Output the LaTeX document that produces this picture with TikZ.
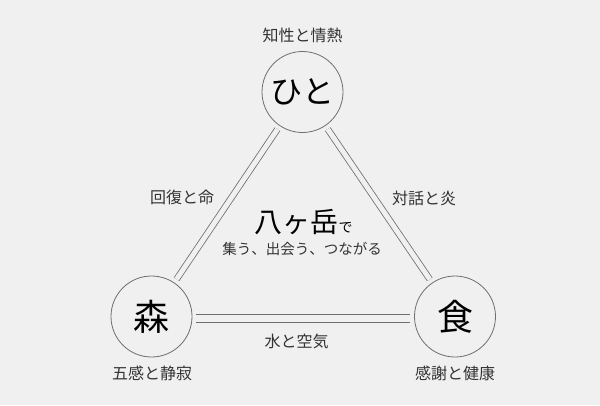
\documentclass[tikz,border=0pt]{standalone}
\usepackage{fontspec}
\setmainfont{Noto Sans CJK JP}
\definecolor{bg}{HTML}{F0F0F0}
\definecolor{ln}{HTML}{6E6E6E}
\definecolor{tx}{HTML}{333333}
\begin{document}
\begin{tikzpicture}[x=1pt,y=-1pt,
  hub/.style={circle,draw=ln,line width=0.8pt,minimum size=81pt,inner sep=0pt,text=black},
  lbl/.style={text=tx,inner sep=0pt,font=\fontsize{16}{16}\selectfont},
  dbl/.style={draw=ln,line width=0.8pt,double=bg,shorten <=4pt,shorten >=4pt},
  sgl/.style={draw=ln,line width=0.8pt}]
\fill[bg] (0,0) rectangle (600,405);
\useasboundingbox (0,0) rectangle (600,405);
\node[hub,font=\fontsize{32}{32}\selectfont] (h) at (302.5,92) {ひと};
\node[hub,font=\fontsize{36}{36}\selectfont] (m) at (151.5,316.5) {森};
\node[hub,font=\fontsize{36}{36}\selectfont] (s) at (455,316.5) {食};
\draw[dbl,double distance=5pt] (h) -- (m);
\draw[dbl,double distance=5pt] (h) -- (s);
\draw[sgl] ([xshift=4pt,yshift=2.5pt]m.east) -- ([xshift=-4pt,yshift=2.5pt]s.west);
\draw[sgl] ([xshift=4pt,yshift=-5.5pt]m.east) -- ([xshift=-4pt,yshift=-5.5pt]s.west);
\node[lbl] (lh) at (302.5,35) {知性と情熱};
\node[lbl] (lm) at (152,373) {五感と静寂};
\node[lbl] (ls) at (455,373) {感謝と健康};
\node[lbl] (e1) at (182,197) {回復と命};
\node[lbl] (e2) at (424,198) {対話と炎};
\node[lbl] (e3) at (296.5,341) {水と空気};
\node[inner sep=0pt,anchor=base] (t) at (303.5,232) {{\fontsize{28}{28}\selectfont 八ヶ岳}{\fontsize{14}{14}\selectfont で}};
\node[inner sep=0pt,text=tx,font=\fontsize{14.5}{14.5}\selectfont] (sub) at (302,249) {集う、出会う、つながる};
\end{tikzpicture}
\end{document}
